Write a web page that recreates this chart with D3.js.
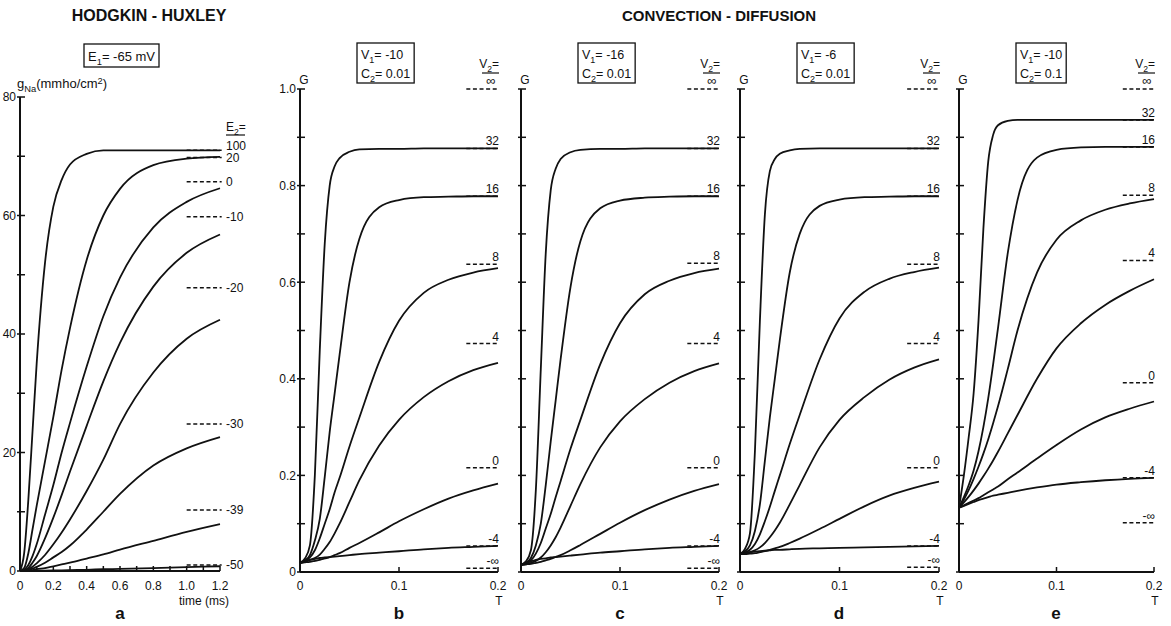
<!DOCTYPE html>
<html>
<head>
<meta charset="utf-8">
<script src="https://cdn.jsdelivr.net/npm/d3@7"></script>
<style>
  body { margin: 0; background: #fff; }
  text { font-family: "Liberation Sans", Arial, sans-serif; fill: #111; }
</style>
</head>
<body>
<script>
// ---- Hodgkin-Huxley panel (a) ----
var hhTime = [0, 0.025, 0.05, 0.075, 0.1, 0.15, 0.2, 0.25, 0.3, 0.4, 0.5, 0.6, 0.8, 1.0, 1.2];
var hhE2 = ["100", "20", "0", "-10", "-20", "-30", "-39", "-50"];
var hhSteady = [71, 69.8, 65.7, 59.8, 47.8, 24.8, 10.3, 1.0];
var hhG = [
  [0, 3, 12, 23.5, 35, 52, 61.5, 66, 68.6, 70.4, 71, 71, 71, 71, 71],
  [0, 0.5, 3, 7, 11, 18.5, 26, 34, 41, 52.5, 60, 64.5, 68.5, 69.6, 69.9],
  [0, 0.2, 1, 2.5, 4.5, 9.5, 14.5, 20, 25, 34.5, 43, 49.5, 58, 62.3, 64.6],
  [0, 0.1, 0.5, 1.4, 2.5, 5.5, 9, 12.8, 16.8, 24.5, 32, 38.5, 48, 53.7, 56.8],
  [0, 0.05, 0.3, 0.7, 1.3, 2.7, 4.5, 6.5, 8.7, 13.5, 18.8, 24.8, 33.5, 39.2, 42.4],
  [0, 0, 0.2, 0.4, 0.7, 1.4, 2.3, 3.2, 4.3, 7, 10, 13, 17.8, 20.7, 22.6],
  [0, 0, 0.05, 0.15, 0.3, 0.5, 0.8, 1.1, 1.4, 2.1, 2.8, 3.6, 5.1, 6.6, 7.9],
  [0, 0, 0, 0.02, 0.05, 0.08, 0.1, 0.12, 0.15, 0.2, 0.3, 0.35, 0.5, 0.65, 0.8]
];
var hhXTicks = ["0", "0.2", "0.4", "0.6", "0.8", "1.0", "1.2"];
var hhYTicks = ["0", "20", "40", "60", "80"];

// ---- Convection-diffusion panels (b-e) ----
var cdTime = [0, 0.005, 0.01, 0.015, 0.02, 0.025, 0.03, 0.035, 0.04, 0.05, 0.06, 0.08, 0.1, 0.125, 0.15, 0.175, 0.2];
var cdV2 = ["32", "16", "8", "4", "0", "-4"];
var steadyNames = ["∞", "32", "16", "8", "4", "0", "-4", "-∞"];
var steadyB = [1.0, 0.877, 0.778, 0.637, 0.473, 0.216, 0.054, 0.008];
var steadyC = [1.0, 0.877, 0.778, 0.639, 0.473, 0.216, 0.054, 0.008];
var steadyD = [1.0, 0.877, 0.778, 0.637, 0.473, 0.216, 0.054, 0.01];
var steadyE = [1.0, 0.936, 0.88, 0.78, 0.645, 0.392, 0.195, 0.102];
var gB = [
  [0.019, 0.028, 0.055, 0.2, 0.46, 0.68, 0.8, 0.84, 0.857, 0.87, 0.875, 0.876, 0.876, 0.877, 0.877, 0.877, 0.877],
  [0.019, 0.024, 0.035, 0.065, 0.11, 0.197, 0.29, 0.37, 0.45, 0.6, 0.69, 0.755, 0.77, 0.776, 0.777, 0.778, 0.778],
  [0.019, 0.022, 0.03, 0.045, 0.07, 0.1, 0.13, 0.165, 0.195, 0.26, 0.32, 0.435, 0.52, 0.578, 0.605, 0.62, 0.629],
  [0.019, 0.021, 0.025, 0.029, 0.036, 0.048, 0.062, 0.08, 0.1, 0.145, 0.19, 0.262, 0.315, 0.362, 0.395, 0.418, 0.433],
  [0.019, 0.02, 0.021, 0.023, 0.025, 0.028, 0.031, 0.035, 0.039, 0.05, 0.06, 0.082, 0.105, 0.13, 0.152, 0.169, 0.183],
  [0.019, 0.022, 0.025, 0.027, 0.029, 0.03, 0.031, 0.032, 0.033, 0.035, 0.037, 0.04, 0.043, 0.047, 0.05, 0.052, 0.054]
];
var gC = [
  [0.015, 0.022, 0.045, 0.17, 0.42, 0.66, 0.79, 0.835, 0.855, 0.869, 0.874, 0.876, 0.876, 0.877, 0.877, 0.877, 0.877],
  [0.015, 0.019, 0.029, 0.055, 0.1, 0.18, 0.27, 0.355, 0.44, 0.59, 0.685, 0.753, 0.769, 0.775, 0.777, 0.778, 0.778],
  [0.015, 0.017, 0.024, 0.038, 0.06, 0.09, 0.12, 0.155, 0.188, 0.255, 0.315, 0.43, 0.515, 0.575, 0.603, 0.619, 0.628],
  [0.015, 0.016, 0.019, 0.023, 0.03, 0.041, 0.055, 0.072, 0.092, 0.137, 0.182, 0.258, 0.312, 0.358, 0.392, 0.416, 0.432],
  [0.015, 0.016, 0.017, 0.019, 0.021, 0.024, 0.027, 0.031, 0.035, 0.045, 0.056, 0.079, 0.102, 0.128, 0.15, 0.168, 0.182],
  [0.015, 0.019, 0.022, 0.025, 0.027, 0.028, 0.03, 0.031, 0.032, 0.034, 0.036, 0.04, 0.043, 0.047, 0.05, 0.052, 0.054]
];
var gD = [
  [0.037, 0.048, 0.08, 0.25, 0.52, 0.74, 0.83, 0.855, 0.866, 0.873, 0.876, 0.877, 0.877, 0.877, 0.877, 0.877, 0.877],
  [0.037, 0.043, 0.055, 0.085, 0.14, 0.23, 0.32, 0.4, 0.48, 0.62, 0.7, 0.758, 0.771, 0.776, 0.777, 0.778, 0.778],
  [0.037, 0.04, 0.046, 0.058, 0.078, 0.105, 0.135, 0.168, 0.2, 0.265, 0.325, 0.44, 0.525, 0.58, 0.607, 0.621, 0.63],
  [0.037, 0.038, 0.041, 0.045, 0.051, 0.06, 0.072, 0.086, 0.102, 0.14, 0.18, 0.258, 0.315, 0.362, 0.398, 0.423, 0.44],
  [0.037, 0.037, 0.038, 0.039, 0.041, 0.043, 0.046, 0.049, 0.052, 0.06, 0.069, 0.089, 0.11, 0.136, 0.158, 0.174, 0.187],
  [0.037, 0.039, 0.041, 0.042, 0.043, 0.044, 0.045, 0.046, 0.046, 0.047, 0.048, 0.049, 0.05, 0.051, 0.052, 0.053, 0.054]
];
var gE = [
  [0.133, 0.2, 0.28, 0.37, 0.52, 0.71, 0.85, 0.905, 0.925, 0.934, 0.936, 0.936, 0.936, 0.936, 0.936, 0.936, 0.936],
  [0.133, 0.155, 0.18, 0.21, 0.25, 0.3, 0.36, 0.43, 0.505, 0.66, 0.77, 0.858, 0.874, 0.879, 0.88, 0.88, 0.88],
  [0.133, 0.15, 0.17, 0.193, 0.218, 0.245, 0.275, 0.308, 0.343, 0.42, 0.5, 0.62, 0.688, 0.728, 0.75, 0.763, 0.772],
  [0.133, 0.144, 0.156, 0.169, 0.183, 0.198, 0.214, 0.231, 0.249, 0.287, 0.325, 0.4, 0.463, 0.515, 0.553, 0.582, 0.606],
  [0.133, 0.138, 0.143, 0.148, 0.153, 0.159, 0.165, 0.171, 0.177, 0.192, 0.206, 0.235, 0.263, 0.295, 0.32, 0.338, 0.353],
  [0.133, 0.137, 0.141, 0.145, 0.149, 0.152, 0.155, 0.158, 0.16, 0.164, 0.168, 0.175, 0.181, 0.186, 0.19, 0.193, 0.195]
];
var boxV1 = ["-10", "-16", "-6", "-10"];
var boxC2 = ["0.01", "0.01", "0.01", "0.1"];
var cdXTicks = ["0", "0.1", "0.2"];
var cdYTicks = ["0", "0.2", "0.4", "0.6", "0.8", "1.0"];
var panelLetters = ["a", "b", "c", "d", "e"];

var svg = d3.select("body").append("svg")
    .attr("width", 1171)
    .attr("height", 626);

var ink = "#111";

// text with sub/superscript pieces: parts = [[str, "sub"|"sup"|null], ...]
function richText(g, x, y, parts, size, anchor) {
  var t = g.append("text")
      .attr("x", x).attr("y", y)
      .attr("font-size", size)
      .attr("text-anchor", anchor || "start");
  var shift = 0;
  parts.forEach(function(p) {
    var target = p[1] === "sub" ? size * 0.3 : p[1] === "sup" ? -size * 0.3 : 0;
    var ts = t.append("tspan").attr("dy", target - shift).text(p[0]);
    if (p[1]) ts.attr("font-size", size * 0.72);
    shift = target;
  });
  return t;
}

function line(g, x1, y1, x2, y2, w, dash) {
  var l = g.append("line")
      .attr("x1", x1).attr("y1", y1).attr("x2", x2).attr("y2", y2)
      .attr("stroke", ink).attr("stroke-width", w || 1.6);
  if (dash) l.attr("stroke-dasharray", dash);
  return l;
}

function drawAxes(g, x, y, xMinor, yMinor) {
  var x0 = x.range()[0], x1 = x.range()[1];
  var y0 = y.range()[0], y1 = y.range()[1];
  line(g, x0, y0, x0, y1, 2);
  line(g, x0, y0, x1, y0, 2);
  yMinor.forEach(function(v) { line(g, x0 - 3, y(v), x0 + 5, y(v), 1.5); });
  xMinor.forEach(function(v) { line(g, x(v), y0, x(v), y0 - 5, 1.5); });
}

var curveGen = function(x, y, times) {
  return d3.line()
      .x(function(d, i) { return x(times[i]); })
      .y(function(d) { return y(d); })
      .curve(d3.curveMonotoneX);
};

// ================= panel a =================
var ga = svg.append("g");
var ax = d3.scaleLinear().domain([0, 1.2]).range([20, 220]);
var ay = d3.scaleLinear().domain([0, 80]).range([571, 97]);

drawAxes(ga, ax, ay, d3.range(13).map(function(i) { return i / 10; }), d3.range(9).map(function(i) { return i * 10; }));

ga.selectAll(".yl").data(hhYTicks).enter().append("text")
    .attr("x", ax(0) - 4).attr("y", function(d) { return ay(+d); })
    .attr("dy", "0.36em").attr("text-anchor", "end").attr("font-size", 12)
    .text(function(d) { return d; });
ga.selectAll(".xl").data(hhXTicks).enter().append("text")
    .attr("x", function(d) { return ax(+d); }).attr("y", 590)
    .attr("text-anchor", "middle").attr("font-size", 12)
    .text(function(d) { return d; });
ga.append("text").attr("x", 229).attr("y", 605).attr("text-anchor", "end")
    .attr("font-size", 12).text("time (ms)");

richText(ga, 17, 88, [["g", null], ["Na", "sub"], ["(mmho/cm", null], ["2", "sup"], [")", null]], 13);

hhG.forEach(function(vals) {
  ga.append("path").datum(vals)
      .attr("d", curveGen(ax, ay, hhTime))
      .attr("fill", "none").attr("stroke", ink).attr("stroke-width", 1.8);
});

// steady-state dashes and labels, spread so labels do not collide
var labY = [];
for (var i = hhSteady.length - 1; i >= 0; i--) {
  var yy = ay(hhSteady[i]);
  if (labY.length && labY[labY.length - 1] - yy < 12) yy = labY[labY.length - 1] - 12;
  labY.push(yy);
}
labY.reverse();
hhSteady.forEach(function(v, i) {
  line(ga, ax(1.0), ay(v), ax(1.21), ay(v), 1.5, "4,2.6");
  ga.append("text").attr("x", 226).attr("y", labY[i]).attr("dy", "0.36em")
      .attr("font-size", 12).text(hhE2[i]);
});
richText(ga, 226, 131, [["E", null], ["2", "sub"], ["=", null]], 12);
line(ga, 226, 135, 245, 135, 1.2);

ga.append("rect").attr("x", 84).attr("y", 44).attr("width", 75).attr("height", 23)
    .attr("fill", "none").attr("stroke", ink).attr("stroke-width", 1.3);
richText(ga, 88, 61, [["E", null], ["1", "sub"], ["= -65 mV", null]], 13);

ga.append("text").attr("x", 149).attr("y", 21).attr("text-anchor", "middle")
    .attr("font-size", 16).attr("font-weight", "bold").text("HODGKIN - HUXLEY");

// ================= panels b-e =================
var cdLeft = [300, 521, 740, 959];
var cdRight = [498, 719, 939, 1154];
var cdG = [gB, gC, gD, gE];
var cdSteady = [steadyB, steadyC, steadyD, steadyE];

cdLeft.forEach(function(left, p) {
  var g = svg.append("g");
  var x = d3.scaleLinear().domain([0, 0.2]).range([left, cdRight[p]]);
  var y = d3.scaleLinear().domain([0, 1]).range([572, 89]);

  drawAxes(g, x, y, [0, 0.1, 0.2], d3.range(11).map(function(i) { return i / 10; }));

  if (p === 0) {
    g.selectAll(".yl").data(cdYTicks).enter().append("text")
        .attr("x", left - 4).attr("y", function(d) { return y(+d); })
        .attr("dy", "0.36em").attr("text-anchor", "end").attr("font-size", 12)
        .text(function(d) { return d; });
  }
  g.selectAll(".xl").data(cdXTicks).enter().append("text")
      .attr("x", function(d) { return x(+d); }).attr("y", 590)
      .attr("text-anchor", "middle").attr("font-size", 12)
      .text(function(d) { return d; });
  g.append("text").attr("x", x(0.2) + 1).attr("y", 605).attr("text-anchor", "middle")
      .attr("font-size", 12).text("T");
  g.append("text").attr("x", left + 4).attr("y", 84).attr("text-anchor", "middle")
      .attr("font-size", 12).text("G");

  cdG[p].forEach(function(vals) {
    g.append("path").datum(vals)
        .attr("d", curveGen(x, y, cdTime))
        .attr("fill", "none").attr("stroke", ink).attr("stroke-width", 1.8);
  });

  var xr = x(0.2) + 1;
  cdSteady[p].forEach(function(v, i) {
    line(g, x(0.168), y(v), xr, y(v), 1.5, "4,2.6");
    if (i > 0) {
      g.append("text").attr("x", xr).attr("y", y(v) - 3).attr("text-anchor", "end")
          .attr("font-size", 12).text(steadyNames[i]);
    }
  });
  // header: V2= over infinity
  richText(g, xr, 68, [["V", null], ["2", "sub"], ["=", null]], 12, "end");
  line(g, xr - 17, 73, xr, 73, 1.2);
  g.append("text").attr("x", xr - 8).attr("y", 85).attr("text-anchor", "middle")
      .attr("font-size", 13).text(steadyNames[0]);

  // parameter box
  var bx = left + 57;
  var t1 = richText(g, bx + 4, 59, [["V", null], ["1", "sub"], ["= " + boxV1[p], null]], 12.5);
  var t2 = richText(g, bx + 4, 78, [["C", null], ["2", "sub"], ["= " + boxC2[p], null]], 12.5);
  var w = Math.max(t1.node().getComputedTextLength(), t2.node().getComputedTextLength()) + 8;
  g.append("rect").attr("x", bx).attr("y", 43).attr("width", w).attr("height", 40)
      .attr("fill", "none").attr("stroke", ink).attr("stroke-width", 1.3);
});

svg.append("text").attr("x", 719).attr("y", 21).attr("text-anchor", "middle")
    .attr("font-size", 15).attr("font-weight", "bold").text("CONVECTION - DIFFUSION");

// panel letters
var letterX = [ax(0.6), 399, 620, 839, 1056];
panelLetters.forEach(function(l, i) {
  svg.append("text").attr("x", letterX[i]).attr("y", 619).attr("text-anchor", "middle")
      .attr("font-size", 17).attr("font-weight", "bold").text(l);
});
</script>
</body>
</html>
